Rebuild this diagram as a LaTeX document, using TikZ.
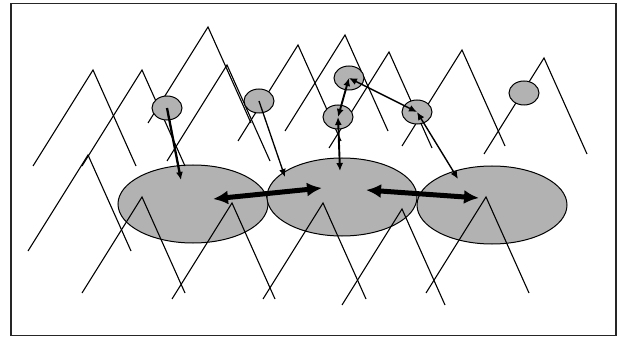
\documentclass[tikz,border=0pt]{standalone}
\usepackage{amsmath, amssymb}
\usetikzlibrary{arrows.meta,shapes.geometric}

\definecolor{cellgray}{RGB}{178,178,178}
\tikzset{
	bigcell/.style={ellipse,draw,fill=cellgray,line width=1pt,minimum width=150pt,minimum height=78pt,inner sep=0pt},
	smallcell/.style={ellipse,draw,fill=cellgray,line width=1pt,minimum width=30pt,minimum height=24pt,inner sep=0pt},
	link/.style={line width=1.4pt,-{Latex[length=8pt,width=7pt]}},
	twolink/.style={line width=1.4pt,{Latex[length=8pt,width=7pt]}-{Latex[length=8pt,width=7pt]}},
	flow/.style={line width=5pt,{Latex[length=15pt,width=14pt]}-{Latex[length=15pt,width=14pt]}}
}

\begin{document}
\begin{tikzpicture}[x=1pt,y=-1pt,line width=1.1pt]
	\useasboundingbox (0,0) rectangle (618,339);
	\draw[line width=1.6pt,black!85] (11,3.5) rectangle (616,335.5);

	\node[bigcell] (b1) at (193,204) {};
	\node[bigcell] (b2) at (342,197) {};
	\node[bigcell] (b3) at (492,205) {};

	% upper ridges
	\draw (33,166)--(93,70)--(136,166);
	\draw (82,166)--(142,70)--(185,166);
	\draw (148,123)--(208,27)--(251,123);
	\draw (167,161)--(227,65)--(270,161);
	\draw (28,251)--(88,155)--(131,251);
	\draw (238,141)--(298,45)--(341,141);
	\draw (285,131)--(345,35)--(388,131);
	\draw (329,148)--(389,52)--(432,148);
	\draw (402,146)--(462,50)--(505,146);
	\draw (484,154)--(544,58)--(587,154);

	% lower ridges
	\draw (82,293)--(142,197)--(185,293);
	\draw (172,299)--(232,203)--(275,299);
	\draw (263,299)--(323,203)--(366,299);
	\draw (342,305)--(402,209)--(445,305);
	\draw (426,293)--(486,197)--(529,293);

	\node[smallcell] (s1) at (167,108) {};
	\node[smallcell] (s2) at (259,101) {};
	\node[smallcell] (s3) at (349,78) {};
	\node[smallcell] (s4) at (338,117) {};
	\node[smallcell] (s5) at (417,112) {};
	\node[smallcell] (s6) at (524,93) {};

	\coordinate (e1) at (181,180);
	\coordinate (e2) at (285,177);
	\coordinate (e3) at (340,171);
	\coordinate (e6) at (458,179);
	\coordinate (t1a) at (213,199);
	\coordinate (t1b) at (322,188);
	\coordinate (t2a) at (366,190);
	\coordinate (t2b) at (479,198);

	\draw[link,line width=2.3pt] (s1.center) -- (e1);
	\draw[link,line width=1.3pt] (s2.center) -- (e2);
	\draw[twolink,line width=1.9pt] (e3) -- (s4.center);
	\draw[twolink,line width=1.9pt] (s4.center) -- (s3.center);
	\draw[twolink] (s3.center) -- (s5.center);
	\draw[twolink] (s5.center) -- (e6);

	\draw[flow] (t1a) -- (t1b);
	\draw[flow] (t2a) -- (t2b);
\end{tikzpicture}
\end{document}
